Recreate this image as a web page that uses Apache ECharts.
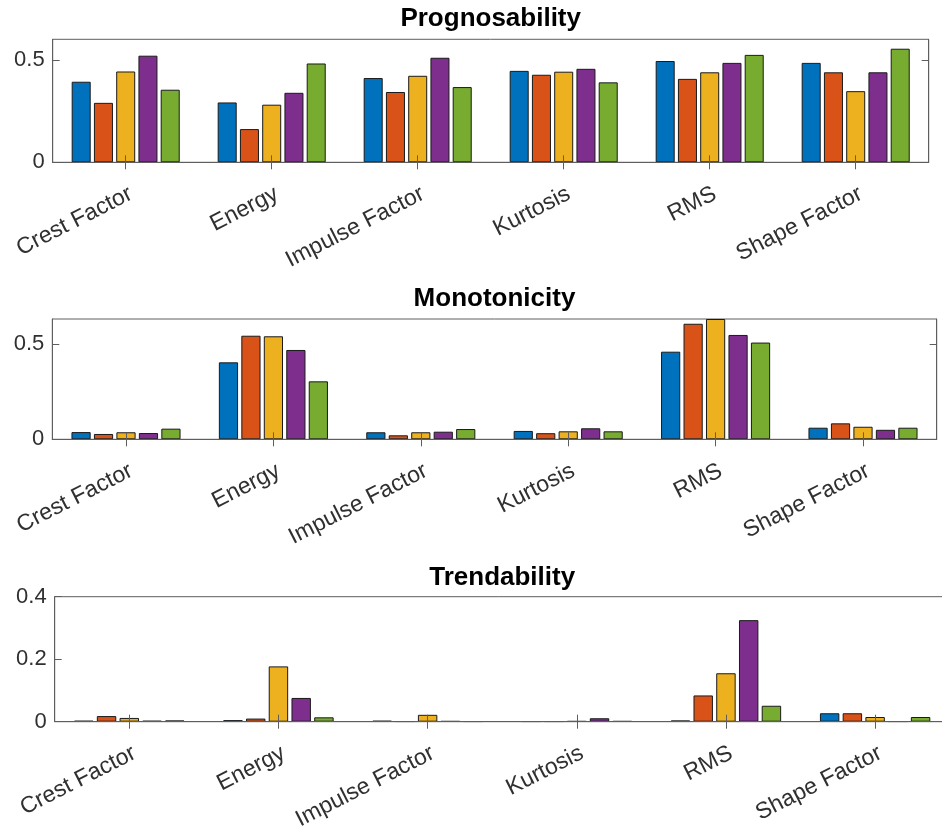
<!DOCTYPE html>
<html>
<head>
<meta charset="utf-8">
<script src="https://cdn.jsdelivr.net/npm/echarts@6/dist/echarts.min.js"></script>
<style>
  html, body { margin: 0; padding: 0; background: #ffffff; }
  #chart { width: 942px; height: 836px; }
</style>
</head>
<body>
<div id="chart"></div>
<script>
// ---- data ----
const categories = ['Crest Factor', 'Energy', 'Impulse Factor', 'Kurtosis', 'RMS', 'Shape Factor'];
const chartTitles = ['Prognosability', 'Monotonicity', 'Trendability'];

// each row = one series (5 colours), values over the 6 categories
const prognosability = [
  [0.393, 0.292, 0.411, 0.446, 0.494, 0.485],
  [0.290, 0.162, 0.343, 0.427, 0.407, 0.439],
  [0.443, 0.281, 0.422, 0.442, 0.439, 0.347],
  [0.520, 0.339, 0.510, 0.456, 0.485, 0.439],
  [0.354, 0.482, 0.367, 0.390, 0.524, 0.554]
];
const monotonicity = [
  [0.038, 0.405, 0.037, 0.044, 0.461, 0.061],
  [0.028, 0.545, 0.021, 0.032, 0.608, 0.084],
  [0.037, 0.542, 0.037, 0.042, 0.633, 0.066],
  [0.033, 0.470, 0.040, 0.058, 0.549, 0.050],
  [0.056, 0.305, 0.054, 0.042, 0.509, 0.061]
];
const trendability = [
  [0.003, 0.005, 0.003, 0.001, 0.004, 0.027],
  [0.018, 0.010, 0.001, 0.001, 0.084, 0.027],
  [0.012, 0.177, 0.022, 0.002, 0.155, 0.015],
  [0.003, 0.076, 0.002, 0.011, 0.325, 0.001],
  [0.004, 0.014, 0.001, 0.002, 0.051, 0.015]
];
const progTicks = [0, 0.5];
const monoTicks = [0, 0.5];
const trendTicks = [0, 0.2, 0.4];
const yMax = [0.6, 0.633, 0.4];

// ---- styling / layout ----
const colors = ['#0072BD', '#D95319', '#EDB120', '#7E2F8E', '#77AC30'];
const grids = [
  { left: 52.7, top: 39.3, width: 876, height: 123 },
  { left: 52.3, top: 319, width: 884.4, height: 120.3 },
  { left: 54.7, top: 596.7, width: 895, height: 125 }
];
const titleY = [19, 299, 578];
const FONT = 'Liberation Sans, Arial, Helvetica, sans-serif';
const AX = '#5e5e5e';
const LBL = '#303030';

const datasets = [prognosability, monotonicity, trendability];
const tickSets = [progTicks, monoTicks, trendTicks];

const option = {
  animation: false,
  backgroundColor: '#ffffff',
  grid: [], xAxis: [], yAxis: [], series: [], graphic: []
};

grids.forEach((g, i) => {
  option.grid.push(Object.assign({
    show: true, borderColor: AX, borderWidth: 1, backgroundColor: 'transparent',
    containLabel: false, outerBoundsMode: 'none'
  }, g));
  const tickCommon = { show: true, inside: true, length: 7, lineStyle: { color: AX, width: 1 } };
  option.xAxis.push({
    type: 'category', gridIndex: i, data: categories, position: 'bottom', z: 5,
    axisLine: { show: true, lineStyle: { color: AX, width: 1 } },
    axisTick: Object.assign({ alignWithLabel: true }, tickCommon),
    axisLabel: { rotate: 27, fontSize: 23, color: LBL, fontFamily: FONT, margin: 20, interval: 0,
      align: 'right', verticalAlign: 'top' }
  });
  option.xAxis.push({
    type: 'category', gridIndex: i, data: categories, position: 'top', z: 5,
    axisLine: { show: true, lineStyle: { color: AX, width: 1 } },
    axisTick: Object.assign({ alignWithLabel: true }, tickCommon),
    axisLabel: { show: false }
  });
  option.yAxis.push({
    type: 'value', gridIndex: i, min: 0, max: yMax[i], position: 'left', z: 5,
    axisLine: { show: true, lineStyle: { color: AX, width: 1 } },
    axisTick: Object.assign({ customValues: tickSets[i] }, tickCommon),
    axisLabel: { customValues: tickSets[i], fontSize: 22, color: LBL, fontFamily: FONT, margin: 8,
      formatter: v => String(v) },
    splitLine: { show: false }
  });
  option.yAxis.push({
    type: 'value', gridIndex: i, min: 0, max: yMax[i], position: 'right', z: 5,
    axisLine: { show: true, lineStyle: { color: AX, width: 1 } },
    axisTick: Object.assign({ customValues: tickSets[i] }, tickCommon),
    axisLabel: { show: false },
    splitLine: { show: false }
  });
  datasets[i].forEach((vals, s) => {
    option.series.push({
      type: 'bar', xAxisIndex: i * 2, yAxisIndex: i * 2, data: vals,
      barGap: '17%', barCategoryGap: '26%',
      itemStyle: { color: colors[s], borderColor: '#1a1a1a', borderWidth: 1 }
    });
  });
  option.graphic.push({
    type: 'text', x: g.left + g.width / 2, y: titleY[i],
    style: { text: chartTitles[i], fontSize: 26, fontWeight: 'bold', fill: '#000',
      fontFamily: FONT, textAlign: 'center', textVerticalAlign: 'middle' }
  });
});

const chart = echarts.init(document.getElementById('chart'), null, { renderer: 'canvas' });
chart.setOption(option);
</script>
</body>
</html>
